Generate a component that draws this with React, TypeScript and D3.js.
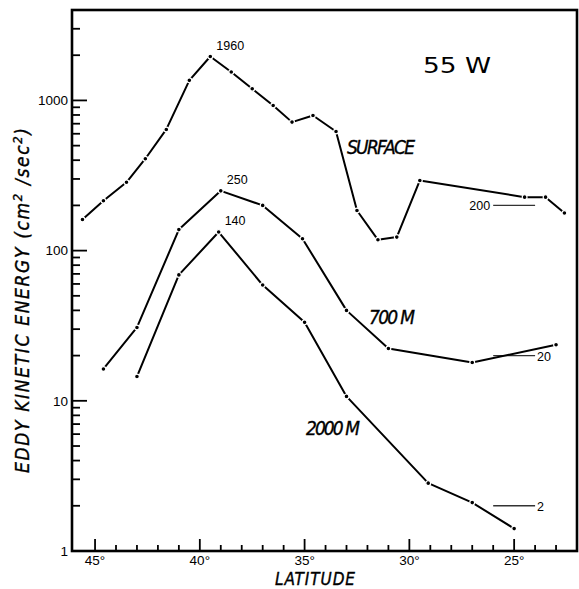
import React, { useRef, useEffect } from "react";
import * as d3 from "d3";

// Energía cinética de los remolinos a 55 W, por latitud
const latSurface = [45.6, 44.6, 43.5, 42.6, 41.6, 40.5, 39.5, 38.5, 37.5, 36.5, 35.6, 34.6, 33.5, 32.5, 31.5, 30.6, 29.5, 24.5, 23.5, 22.6];
const keSurface = [161, 215, 285, 409, 641, 1360, 1960, 1545, 1196, 926, 717, 794, 621, 185, 118, 123, 293, 227, 227, 178];

const lat700 = [44.6, 43, 41, 39, 37, 35.1, 33, 31, 27, 23];
const ke700 = [16.3, 30.8, 138, 250, 200, 120, 40, 22.3, 18, 23.6];

const lat2000 = [43, 41, 39.1, 37, 35, 33, 29.1, 27, 25];
const ke2000 = [14.5, 68.9, 133, 59, 33.3, 10.7, 2.83, 2.1, 1.41];

// niveles de referencia (segmentos cortos a la derecha)
const refLevels = [200, 20, 2];
const refLatRange = [26, 24];

const majorLat = [45, 40, 35, 30, 25];
const yLabels = [1, 10, 100, 1000];

const W = 579;
const H = 589;
const narrow = "'Liberation Sans Narrow', 'DejaVu Sans Condensed', sans-serif";
const sans = "'Liberation Sans', Arial, sans-serif";

const App = () => {
  const ref = useRef<SVGSVGElement>(null);

  useEffect(() => {
    const svg = d3.select(ref.current);
    svg.selectChildren().remove();

    const x = d3.scaleLinear().domain([46.1, 22.0]).range([72, 577]);
    const y = d3.scaleLog().domain([1, 4000]).range([551, 10]);

    const g = svg.append("g");

    // marco
    g.append("rect")
      .attr("x", 72)
      .attr("y", 10)
      .attr("width", 505)
      .attr("height", 541)
      .attr("fill", "none")
      .attr("stroke", "#000")
      .attr("stroke-width", 2.6);

    // ticks X (hacia dentro)
    const xTicks = d3.range(23, 46);
    g.selectAll("line.xt")
      .data(xTicks)
      .enter()
      .append("line")
      .attr("x1", (d) => x(d))
      .attr("x2", (d) => x(d))
      .attr("y1", 551)
      .attr("y2", (d) => (majorLat.includes(d) ? 539 : 545))
      .attr("stroke", "#000")
      .attr("stroke-width", 1.8);

    g.selectAll("text.xl")
      .data(majorLat)
      .enter()
      .append("text")
      .attr("x", (d) => x(d))
      .attr("y", 565)
      .attr("text-anchor", "middle")
      .style("font-family", sans)
      .style("font-size", "13.5px")
      .text((d) => `${d}°`);

    // ticks Y (log)
    const yTicks: number[] = [];
    [1, 10, 100, 1000].forEach((dec) => {
      for (let k = 1; k <= 9; k++) {
        const v = k * dec;
        if (v > 1 && v <= 3000) yTicks.push(v);
      }
    });
    g.selectAll("line.yt")
      .data(yTicks)
      .enter()
      .append("line")
      .attr("x1", 72)
      .attr("x2", (d) => (yLabels.includes(d) ? 87 : 80))
      .attr("y1", (d) => y(d))
      .attr("y2", (d) => y(d))
      .attr("stroke", "#000")
      .attr("stroke-width", 1.8);

    g.selectAll("text.yl")
      .data(yLabels)
      .enter()
      .append("text")
      .attr("x", 68)
      .attr("y", (d) => y(d))
      .attr("dy", "0.36em")
      .attr("text-anchor", "end")
      .style("font-family", sans)
      .style("font-size", "13.5px")
      .text((d) => d);

    // títulos de ejes
    g.append("text")
      .attr("x", 275)
      .attr("y", 585)
      .attr("textLength", 80)
      .attr("stroke", "#000")
      .attr("stroke-width", 0.35)
      .style("font-family", narrow)
      .style("font-style", "italic")
      .style("font-size", "17px")
      .text("LATITUDE");

    const yt = g
      .append("text")
      .attr("transform", "translate(29, 473) rotate(-90)")
      .attr("textLength", 345)
      .attr("stroke", "#000")
      .attr("stroke-width", 0.35)
      .style("font-family", narrow)
      .style("font-style", "italic")
      .style("font-size", "19px");
    yt.append("tspan").text("EDDY KINETIC ENERGY (cm");
    yt.append("tspan").attr("dy", -7).style("font-size", "13px").text("2");
    yt.append("tspan").attr("dy", 7).text(" /sec");
    yt.append("tspan").attr("dy", -7).style("font-size", "13px").text("2");
    yt.append("tspan").attr("dy", 7).text(")");

    // niveles de referencia
    refLevels.forEach((v) => {
      g.append("line")
        .attr("x1", x(refLatRange[0]))
        .attr("x2", x(refLatRange[1]))
        .attr("y1", y(v))
        .attr("y2", y(v))
        .attr("stroke", "#333")
        .attr("stroke-width", 1.4);
    });
    g.append("text")
      .attr("x", x(refLatRange[0]) - 3)
      .attr("y", y(200) + 5)
      .attr("text-anchor", "end")
      .style("font-family", sans)
      .style("font-size", "12.5px")
      .text("200");
    [20, 2].forEach((v) => {
      g.append("text")
        .attr("x", x(refLatRange[1]) + 2)
        .attr("y", y(v) + 5)
        .style("font-family", sans)
        .style("font-size", "12.5px")
        .text(v);
    });

    // curvas
    const series = [
      { lat: latSurface, ke: keSurface },
      { lat: lat700, ke: ke700 },
      { lat: lat2000, ke: ke2000 },
    ];
    series.forEach((s) => {
      const pts = s.lat.map((la, i) => [x(la), y(s.ke[i])] as [number, number]);
      g.append("path")
        .attr("d", d3.line()(pts))
        .attr("fill", "none")
        .attr("stroke", "#000")
        .attr("stroke-width", 2)
        .attr("stroke-linejoin", "round");
      g.selectAll(null)
        .data(pts)
        .enter()
        .append("circle")
        .attr("cx", (d) => d[0])
        .attr("cy", (d) => d[1])
        .attr("r", 2.4)
        .attr("fill", "#000")
        .attr("stroke", "#fff")
        .attr("stroke-width", 1.2);
    });

    // etiquetas de picos
    const peak = (lat: number, v: number, txt: string) =>
      g
        .append("text")
        .attr("x", x(lat) + 6)
        .attr("y", y(v) - 7)
        .style("font-family", sans)
        .style("font-size", "12.5px")
        .text(txt);
    peak(39.5, 1960, "1960");
    peak(39, 250, "250");
    peak(39.1, 133, "140");

    // nombres de curvas
    const lbl = (px: number, py: number, w: number, txt: string) =>
      g
        .append("text")
        .attr("x", px)
        .attr("y", py)
        .attr("textLength", w)
        .attr("stroke", "#000")
        .attr("stroke-width", 0.35)
        .style("font-family", narrow)
        .style("font-style", "italic")
        .style("font-size", "19px")
        .text(txt);
    lbl(347, 154, 68, "SURFACE");
    lbl(369, 324, 46, "700 M");
    lbl(306, 435, 54, "2000 M");

    g.append("text")
      .attr("x", 423)
      .attr("y", 73)
      .attr("textLength", 68)
      .attr("lengthAdjust", "spacingAndGlyphs")
      .style("font-family", "'DejaVu Sans', sans-serif")
      .style("font-size", "22px")
      .text("55 W");
  }, []);

  return (
    <svg
      ref={ref}
      width={W}
      height={H}
      style={{ position: "absolute", left: 0, top: 0, background: "#fff" }}
    />
  );
};

export default App;
